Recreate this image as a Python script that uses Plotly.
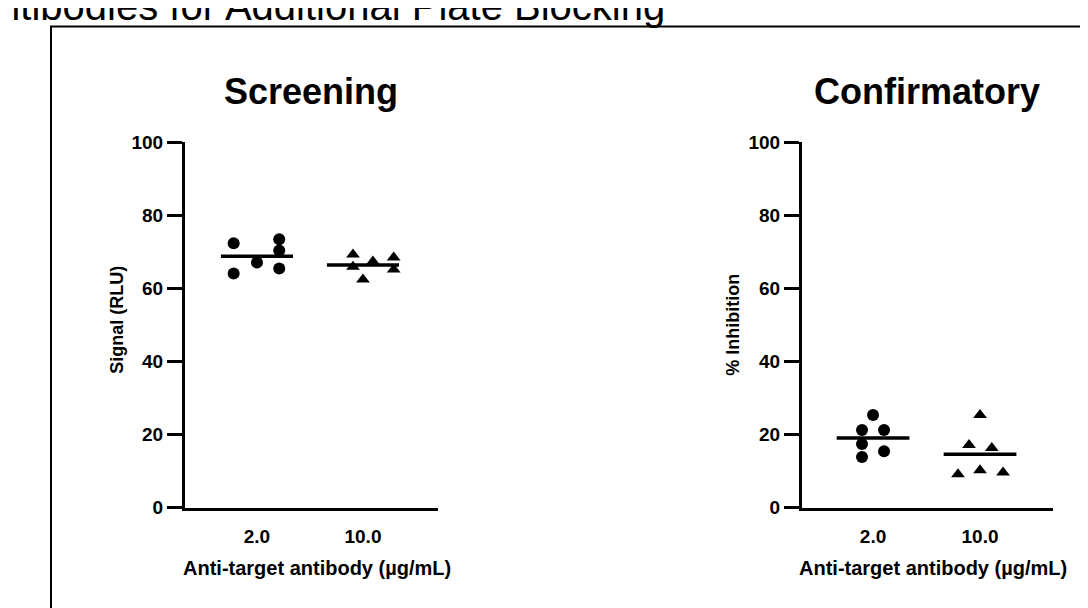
import plotly.graph_objects as go

# ---------------- data ----------------
categories = ["2.0", "10.0"]
y_ticks = [0, 20, 40, 60, 80, 100]

screen_2 = [72.3, 64.0, 67.0, 73.4, 70.3, 65.4]
screen_10 = [69.2, 65.9, 62.4, 67.3, 68.4, 65.1]
confirm_2 = [25.3, 21.2, 21.2, 17.4, 15.4, 13.8]
confirm_10 = [25.3, 17.1, 16.3, 9.1, 10.2, 9.6]

# horizontal point arrangement within each column (category units)
spread_screen_2 = [-0.22, -0.22, 0.0, 0.21, 0.21, 0.21]
spread_screen_10 = [-0.094, -0.094, 0.0, 0.094, 0.29, 0.29]
spread_confirm_2 = [0.0, -0.103, 0.103, -0.103, 0.103, -0.103]
spread_confirm_10 = [0.0, -0.103, 0.11, -0.206, 0.0, 0.215]

W, H = 1088, 608
FONT = "Liberation Sans, Arial, sans-serif"


def sx(x):
    return (x - 8) / W


def sy(y):
    return 1 - (y - 19.5) / 584.6


fig = go.Figure()


def add_group(vals, spread, idx, symbol, xa, ya):
    fig.add_trace(go.Scatter(
        x=[idx + s for s in spread], y=vals, mode="markers",
        marker=dict(symbol=symbol, size=12, color="black", line=dict(width=0)),
        xaxis=xa, yaxis=ya, showlegend=False, hoverinfo="y"))
    m = sum(vals) / len(vals)
    fig.add_trace(go.Scatter(
        x=[idx - 0.34, idx + 0.34], y=[m, m], mode="lines",
        line=dict(color="black", width=3.5),
        xaxis=xa, yaxis=ya, showlegend=False, hoverinfo="skip"))


add_group(screen_2, spread_screen_2, 0, "circle", "x", "y")
add_group(screen_10, spread_screen_10, 1, "triangle-up", "x", "y")
add_group(confirm_2, spread_confirm_2, 0, "circle", "x2", "y2")
add_group(confirm_10, spread_confirm_10, 1, "triangle-up", "x2", "y2")

xcommon = dict(showline=True, linecolor="black", linewidth=3, ticks="",
               tickvals=[0, 1], ticktext=categories, showgrid=False,
               zeroline=False, ticklabelstandoff=10,
               tickfont=dict(family=FONT, size=19, color="black", weight="bold"))
ycommon = dict(showline=True, linecolor="black", linewidth=3, ticks="outside",
               ticklen=15, tickwidth=3, tickcolor="black",
               tickvals=y_ticks, range=[0, 100], showgrid=False, zeroline=False,
               tickfont=dict(family=FONT, size=19, color="black", weight="bold"))

ydom = [sy(507), sy(143)]
fig.update_layout(
    width=W, height=H, autosize=False,
    margin=dict(l=0, r=0, t=0, b=0),
    paper_bgcolor="white", plot_bgcolor="white",
    xaxis=dict(domain=[sx(185), sx(438)], range=[-0.679, 1.708], anchor="y", **xcommon),
    yaxis=dict(domain=ydom, anchor="x", **ycommon),
    xaxis2=dict(domain=[sx(802), sx(1053)], range=[-0.664, 1.682], anchor="y2", **xcommon),
    yaxis2=dict(domain=ydom, anchor="x2", **ycommon),
)

# outer frame (extends past the visible area)
fig.add_shape(type="rect", xref="paper", yref="paper",
              x0=sx(51), y0=sy(700), x1=sx(1200), y1=sy(28),
              line=dict(color="black", width=2), fillcolor="rgba(0,0,0,0)")

ann = []
# main title (partly outside the visible area)
ann.append(dict(text="Anti-target Antibodies for Additional Plate Blocking",
                x=sx(667), y=sy(8), xanchor="right", yanchor="middle",
                font=dict(family=FONT, size=40, color="black")))
# panel titles
ann.append(dict(text="<b>Screening</b>", x=sx(311), y=sy(93), xanchor="center", yanchor="middle",
                font=dict(family=FONT, size=36, color="black")))
ann.append(dict(text="<b>Confirmatory</b>", x=sx(927), y=sy(93), xanchor="center", yanchor="middle",
                font=dict(family=FONT, size=36, color="black")))
# axis titles
ann.append(dict(text="<b>Anti-target antibody (µg/mL)</b>", x=sx(317), y=sy(567),
                xanchor="center", yanchor="middle", font=dict(family=FONT, size=20, color="black")))
ann.append(dict(text="<b>Anti-target antibody (µg/mL)</b>", x=sx(933), y=sy(567),
                xanchor="center", yanchor="middle", font=dict(family=FONT, size=20, color="black")))
ann.append(dict(text="<b>Signal (RLU)</b>", x=sx(117), y=sy(320), textangle=-90,
                xanchor="center", yanchor="middle", font=dict(family=FONT, size=18, color="black")))
ann.append(dict(text="<b>% Inhibition</b>", x=sx(733), y=sy(325), textangle=-90,
                xanchor="center", yanchor="middle", font=dict(family=FONT, size=18, color="black")))
for a in ann:
    a.update(xref="paper", yref="paper", showarrow=False)
fig.update_layout(annotations=ann)

fig.write_html("out.html")
